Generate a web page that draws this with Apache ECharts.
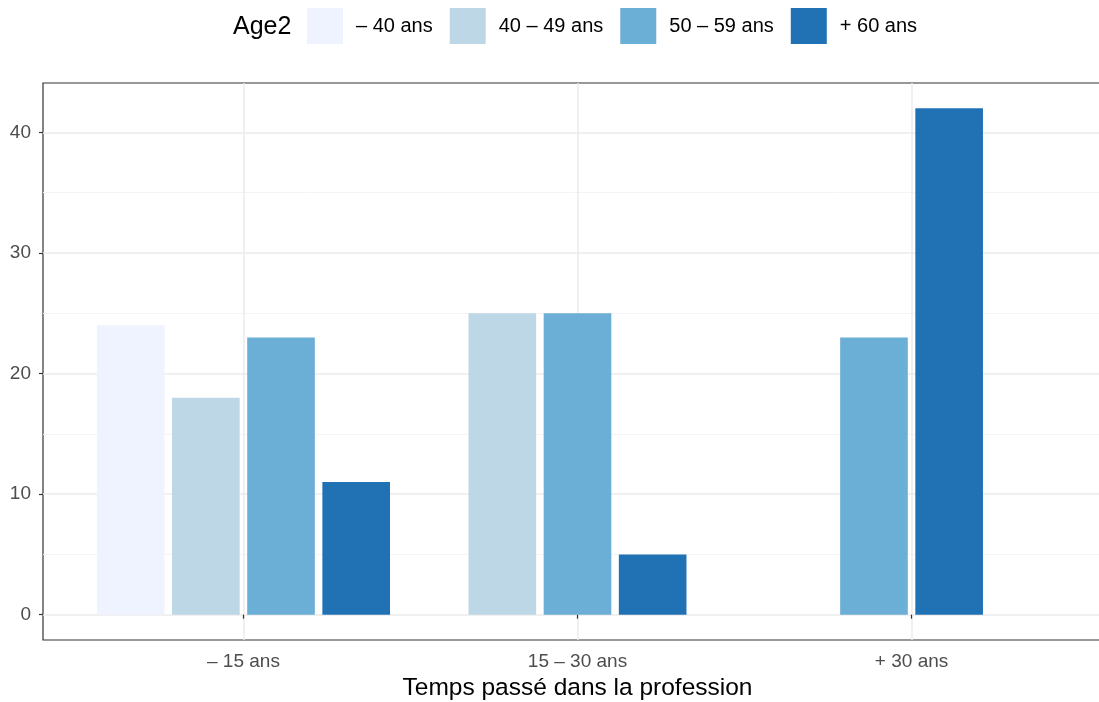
<!DOCTYPE html>
<html><head><meta charset="utf-8">
<script src="https://cdn.jsdelivr.net/npm/echarts@6/dist/echarts.min.js"></script>
<style>html,body{margin:0;padding:0;background:#fff}#c{width:1099px;height:702px}</style>
</head><body><div id="c"></div>
<script>
const categories = ['– 15 ans', '15 – 30 ans', '+ 30 ans'];
const ageGroups = ['– 40 ans', '40 – 49 ans', '50 – 59 ans', '+ 60 ans'];
const v_moins40 = [24, null, null];
const v_40_49 = [18, 25, null];
const v_50_59 = [23, 25, 23];
const v_plus60 = [11, 5, 42];
const yTicks = [0, 10, 20, 30, 40];
const yMinor = [5, 15, 25, 35];
const colors = ['#EFF3FF', '#BDD7E7', '#6BAED6', '#2171B5'];

const seriesValues = [v_moins40, v_40_49, v_50_59, v_plus60];
const xPos = categories.map((_, i) => i + 1);
const SLOT = 0.225, BARW = 0.2025;
const FONT = 'Liberation Sans, Arial, sans-serif';

function renderBar(ageIdx) {
  return function (params, api) {
    const cx = api.value(0), val = api.value(1);
    const ci = cx - 1;
    const present = [];
    seriesValues.forEach((arr, a) => { if (arr[ci] != null) present.push(a); });
    const k = present.length, rank = present.indexOf(ageIdx);
    const center = cx + (rank - (k - 1) / 2) * SLOT;
    const p1 = api.coord([center - BARW / 2, val]);
    const p2 = api.coord([center + BARW / 2, 0]);
    return {
      type: 'rect',
      shape: { x: p1[0], y: p1[1], width: p2[0] - p1[0], height: p2[1] - p1[1] },
      style: { fill: colors[ageIdx] }
    };
  };
}

const gridLines = [];
yMinor.forEach(v => gridLines.push({ yAxis: v, lineStyle: { color: '#F4F4F4', width: 1, type: 'solid' } }));
yTicks.forEach(v => gridLines.push({ yAxis: v, lineStyle: { color: '#EBEBEB', width: 1.5, type: 'solid' } }));
xPos.forEach(v => gridLines.push({ xAxis: v, lineStyle: { color: '#EBEBEB', width: 1.5, type: 'solid' } }));

const series = [{
  type: 'line', data: [], silent: true, z: 0, legendHoverLink: false,
  markLine: { silent: true, z: 0, symbol: ['none', 'none'], label: { show: false }, animation: false, data: gridLines }
}];
ageGroups.forEach((name, a) => {
  series.push({
    name: name, type: 'custom', z: 10,
    itemStyle: { color: colors[a] },
    renderItem: renderBar(a),
    encode: { x: 0, y: 1 },
    data: seriesValues[a].map((v, i) => v == null ? null : [i + 1, v]).filter(d => d)
  });
});

const chart = echarts.init(document.getElementById('c'), null, { renderer: 'canvas' });
chart.setOption({
  animation: false,
  backgroundColor: '#fff',
  textStyle: { fontFamily: FONT },
  grid: { left: 43, top: 83, bottom: 62, width: 1069, outerBoundsMode: 'none', containLabel: false,
          show: true, borderColor: '#333333', borderWidth: 1.2, backgroundColor: 'transparent' },
  title: { text: 'Age2', left: 233, top: 15, padding: 0, textStyle: { fontSize: 25, fontWeight: 'normal', color: '#000', fontFamily: FONT } },
  legend: {
    left: 307, top: 8, padding: 0, icon: 'rect', itemWidth: 36, itemHeight: 36, itemGap: 17,
    data: ageGroups,
    textStyle: { fontSize: 20, color: '#000', padding: [3, 0, 0, 8], fontFamily: FONT }
  },
  xAxis: {
    type: 'value', min: 0.4, max: 3.6,
    name: 'Temps passé dans la profession', nameLocation: 'middle', nameGap: 36,
    nameTextStyle: { fontSize: 24.5, color: '#000', verticalAlign: 'top' },
    axisLine: { show: false },
    splitLine: { show: false },
    axisTick: { show: true, length: 4, lineStyle: { color: '#333333', width: 1.2 }, customValues: xPos },
    axisLabel: { customValues: xPos, margin: 12, fontSize: 19, color: '#4D4D4D', formatter: v => categories[Math.round(v) - 1] }
  },
  yAxis: {
    type: 'value', min: -2.1, max: 44.1,
    axisLine: { show: false },
    splitLine: { show: false },
    axisTick: { show: true, length: 4, lineStyle: { color: '#333333', width: 1.2 }, customValues: yTicks },
    axisLabel: { customValues: yTicks, margin: 12, fontSize: 19, color: '#4D4D4D' }
  },
  series: series
});
</script>
</body></html>
